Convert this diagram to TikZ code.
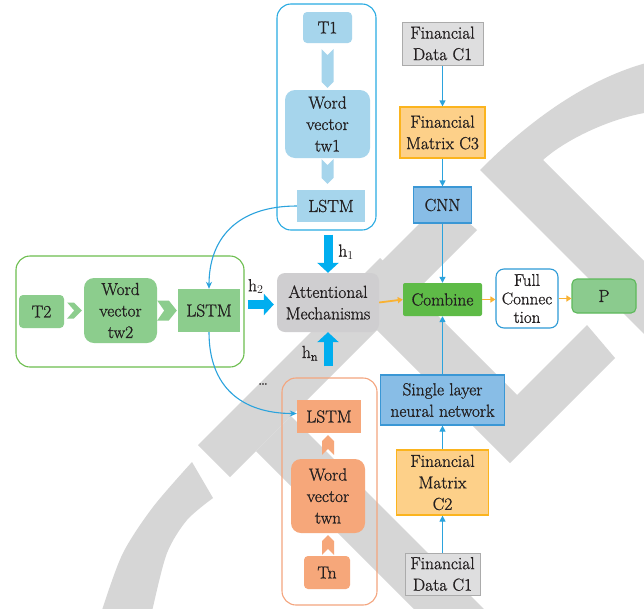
\documentclass[tikz,border=0pt]{standalone}
\usepackage{fontspec}
\setmainfont{Latin Modern Roman}[FakeBold=1]
\usetikzlibrary{arrows.meta,calc}

\definecolor{txt}{HTML}{231F20}
\definecolor{wm}{HTML}{D6D6D6}
\definecolor{cyanline}{HTML}{29ABE2}
\definecolor{lblue}{HTML}{A6D5EC}
\definecolor{gline}{HTML}{6DBE4F}
\definecolor{lgreen}{HTML}{8CCD8D}
\definecolor{oline}{HTML}{F4A57E}
\definecolor{lorange}{HTML}{F6A77A}
\definecolor{harrowc}{HTML}{00AEEF}
\definecolor{attgray}{HTML}{CFCED0}
\definecolor{combg}{HTML}{5EBB47}
\definecolor{pgreen}{HTML}{8BCB8E}
\definecolor{pline}{HTML}{5DB95B}
\definecolor{fullline}{HTML}{2E9BD6}
\definecolor{datafill}{HTML}{DEDEDF}
\definecolor{dataline}{HTML}{ABABAB}
\definecolor{matfill}{HTML}{FDD089}
\definecolor{matline}{HTML}{FBB41E}
\definecolor{nnfill}{HTML}{88BDE6}
\definecolor{nnline}{HTML}{3A97D5}
\definecolor{conn}{HTML}{2BA3DD}
\definecolor{yarrow}{HTML}{F9B233}

% block arrows (chevrons): colour, start point, end point
\newcommand\chevdown[3]{\fill[#1] ($(#2)+(-6,0)$) -- ($(#2)+(0,6)$) -- ($(#2)+(6,0)$) -- ($(#3)+(6,-6)$) -- (#3) -- ($(#3)+(-6,-6)$) -- cycle;}
\newcommand\chevup[3]{\fill[#1] ($(#2)+(-6,0)$) -- ($(#2)+(0,-6)$) -- ($(#2)+(6,0)$) -- ($(#3)+(6,6)$) -- (#3) -- ($(#3)+(-6,6)$) -- cycle;}
\newcommand\chevright[4]{\fill[#1] ($(#2)+(0,-#4)$) -- ($(#2)+(7,0)$) -- ($(#2)+(0,#4)$) -- ($(#3)+(-8,#4)$) -- (#3) -- ($(#3)+(-8,-#4)$) -- cycle;}

\begin{document}
\begin{tikzpicture}[x=1pt,y=-1pt,
  every node/.style={text=txt, font=\fontsize{17.4}{21.5}\selectfont},
  cont/.style={draw, rounded corners=14pt, line width=1.1pt, inner sep=0pt},
  blk/.style={inner sep=0pt, align=center},
  harrow/.style={draw=harrowc, line width=9pt, -{Triangle[length=10pt,width=21pt]}},
  barrow/.style={draw=conn, line width=1.2pt, -{Triangle[length=6pt,width=6pt]}},
  carrow/.style={draw=conn, line width=1.1pt, -{Stealth[length=7pt,width=6pt]}},
  yarr/.style={draw=yarrow, line width=1.8pt, -{Triangle[length=5pt,width=6pt]}},
  lbl/.style={inner sep=0pt}
]
\useasboundingbox (0,0) rectangle (644,608);
\fill[white] (0,0) rectangle (644,608);

% watermark
\begin{scope}
\clip (0,0) rectangle (644,608);
\fill[wm] (198,445) -- (230,477) -- (477,230) -- (443,200) -- cycle;
\fill[wm] (480,170) .. controls (520,130) and (580,80) .. (650,62) -- (650,112)
  .. controls (610,118) and (565,140) .. (543,160) -- (650,267) -- (650,340) -- cycle;
\fill[wm] (380,258) -- (342.5,295.5) -- (510,463) -- (615,358) -- (587,325) -- (517,395) -- cycle;
\fill[wm] (291,416) -- (500,625) -- (430,625) -- (256,451) -- cycle;
\fill[wm] plot[smooth] coordinates {(100,620) (103,607) (123,553) (153,507) (192,462)}
  -- (213,498) -- plot[smooth] coordinates {(213,498) (187,520) (167,553) (153,607) (151,620)} -- cycle;
\end{scope}

% groups of the three input texts
\node[cont, draw=cyanline, minimum width=99pt, minimum height=226pt] (cblue) at (326.5,117) {};
\node[cont, draw=gline, minimum width=228pt, minimum height=111pt] (cgreen) at (130,311.5) {};
\node[cont, draw=oline, minimum width=95pt, minimum height=227pt] (corange) at (329.5,491.5) {};

% text branch 1
\node[blk, fill=lblue, rounded corners=4pt, minimum width=49pt, minimum height=31pt] (t1) at (327.5,27.5) {T1};
\node[blk, fill=lblue, rounded corners=10pt, minimum width=85pt, minimum height=68pt] (wv1) at (327.5,124) {Word\\vector\\tw1};
\node[blk, fill=lblue, minimum width=68pt, minimum height=32pt] (lstm1) at (331,206) {LSTM};

% text branch 2
\node[blk, fill=lgreen, rounded corners=4pt, minimum width=45pt, minimum height=33pt] (t2) at (41.5,311.5) {T2};
\node[blk, fill=lgreen, rounded corners=10pt, minimum width=73pt, minimum height=65pt] (wv2) at (120.5,310.5) {Word\\vector\\tw2};
\node[blk, fill=lgreen, minimum width=62pt, minimum height=43pt] (lstm2) at (209,310.5) {LSTM};

% text branch n
\node[blk, fill=lorange, minimum width=64pt, minimum height=33pt] (lstmn) at (329,416.5) {LSTM};
\node[blk, fill=lorange, rounded corners=10pt, minimum width=74pt, minimum height=74pt] (wvn) at (328,496) {Word\\vector\\twn};
\node[blk, fill=lorange, rounded corners=4pt, minimum width=46pt, minimum height=33pt] (tn) at (327,572.5) {Tn};

% attention and output
\node[blk, fill=attgray, rounded corners=8pt, minimum width=102pt, minimum height=59pt] (att) at (328,302.5) {Attentional\\Mechanisms};
\node[blk, fill=combg, rounded corners=2pt, minimum width=79pt, minimum height=33pt] (comb) at (442.5,299.5) {Combine};
\node[blk, draw=fullline, line width=1.1pt, fill=white, rounded corners=8pt, minimum width=62pt, minimum height=59pt,
  font=\fontsize{17}{18.5}\selectfont] (full) at (527,298.5) {Full\\Connec\\tion};
\node[blk, draw=pline, line width=1.1pt, fill=pgreen, rounded corners=5pt, minimum width=64pt, minimum height=34pt] (p) at (604,296) {P};

% financial data branch
\node[blk, draw=dataline, line width=1pt, fill=datafill, minimum width=81pt, minimum height=43pt] (fd1) at (442.5,43.5) {Financial\\Data C1};
\node[blk, draw=matline, line width=1.2pt, fill=matfill, minimum width=85pt, minimum height=51pt] (fm3) at (442.5,132.5) {Financial\\Matrix C3};
\node[blk, draw=nnline, line width=1.2pt, fill=nnfill, minimum width=58pt, minimum height=36pt] (cnn) at (442.5,205) {CNN};
\node[blk, draw=nnline, line width=1.2pt, fill=nnfill, minimum width=124pt, minimum height=50pt] (sln) at (442.5,400) {Single layer\\neural network};
\node[blk, draw=matline, line width=1.2pt, fill=matfill, minimum width=92pt, minimum height=65pt] (fm2) at (442.5,482.5) {Financial\\Matrix\\C2};
\node[blk, draw=dataline, line width=1pt, fill=datafill, minimum width=75pt, minimum height=42pt] (fd2) at (442.5,574) {Financial\\Data C1};

% block arrows inside the groups
\coordinate (ca1) at ($(t1.south)+(0,6)$);
\coordinate (cb1) at ($(wv1.north)+(0,-2)$);
\chevdown{lblue}{ca1}{cb1}
\coordinate (ca2) at ($(wv1.south)+(0,1)$);
\coordinate (cb2) at ($(wv1.south |- lstm1.north)+(0,-6)$);
\chevdown{lblue}{ca2}{cb2}
\coordinate (ca3) at ($(wvn.north)+(0,-4)$);
\coordinate (cb3) at ($(wvn.north |- lstmn.south)+(0,2)$);
\chevup{lorange}{ca3}{cb3}
\coordinate (ca4) at ($(tn.north)+(1,-1)$);
\coordinate (cb4) at ($(wvn.south)+(0,2)$);
\chevup{lorange}{ca4}{cb4}
\coordinate (ca5) at ($(t2.east)+(3,-1)$);
\coordinate (cb5) at ($(ca5 -| wv2.west)+(-2,0)$);
\chevright{lgreen}{ca5}{cb5}{8}
\coordinate (ca6) at ($(wv2.east)+(0,0)$);
\coordinate (cb6) at ($(lstm2.west)+(-1,0)$);
\chevright{lgreen}{ca6}{cb6}{10}

% hidden states into the attention block
\draw[harrow] ($(att.north |- cblue.south)+(0,4)$) -- (att.north);
\draw[harrow] ($(att.south |- corange.north)+(0,-11)$) -- (att.south);
\draw[harrow, shorten >=3pt] ($(cgreen.east |- att.west)+(3,2)$) -- ($(att.west)+(0,2)$);
\node[lbl] (lh1) at ($(att.north)+(18,-21)$) {$\mathrm{h}_{1}$};
\node[lbl] (lh2) at ($(att.west)+(-21,-16)$) {$\mathrm{h}_{2}$};
\node[lbl] (lhn) at ($(att.south)+(-18,21)$) {$\mathrm{h}_{\mathrm{n}}$};
\node[lbl] (dots) at (263,384) {\dots};

% recurrent links between the LSTM cells
\draw[carrow] (lstm1.west) .. controls +(-60,0) and +(0,-50) .. (lstm2.north);
\draw[carrow] (lstm2.south) .. controls +(0,55) and +(-55,0) .. ($(lstmn.west)+(0,-3)$);

% output chain
\draw[yarr] (att.east) -- (comb.west);
\draw[yarr] (comb.east) -- (comb.east -| full.west);
\draw[yarr] (full.east) -- (full.east -| p.west);

% financial data chain
\draw[barrow] (fd1.south) -- (fm3.north);
\draw[barrow] (fm3.south) -- (cnn.north);
\draw[barrow] (cnn.south) -- (comb.north);
\draw[barrow] (fd2.north) -- (fm2.south);
\draw[barrow] (fm2.north) -- (sln.south);
\draw[barrow] (sln.north) -- (comb.south);
\end{tikzpicture}
\end{document}
